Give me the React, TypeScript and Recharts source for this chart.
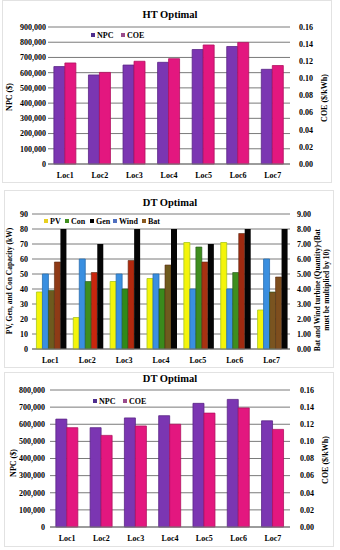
import React from 'react';
import { BarChart, Bar, XAxis, YAxis, CartesianGrid, Cell } from 'recharts';

const locations = ['Loc1', 'Loc2', 'Loc3', 'Loc4', 'Loc5', 'Loc6', 'Loc7'];

// HT Optimal
const htNpc = [640000, 585000, 650000, 668000, 752000, 772000, 622000];
const htCoe = [0.118, 0.107, 0.12, 0.123, 0.139, 0.142, 0.115];

// DT Optimal (components)
const dtPv = [38, 21, 45, 47, 71, 71, 26];
const dtCon = [39, 45, 40, 40, 68, 51, 38];
const dtGen = [80, 70, 80, 80, 70, 80, 80];
const dtWind = [5, 6, 5, 5, 4, 4, 6];
const dtBat = [5.8, 5.1, 5.9, 5.6, 5.8, 7.7, 4.8];

// DT Optimal (costs)
const dtNpc = [630000, 580000, 637000, 650000, 722000, 745000, 620000];
const dtCoe = [0.116, 0.107, 0.118, 0.12, 0.133, 0.139, 0.114];

const npcTicksHT = [0, 100000, 200000, 300000, 400000, 500000, 600000, 700000, 800000, 900000];
const npcTicksDT = [0, 100000, 200000, 300000, 400000, 500000, 600000, 700000, 800000];
const coeTicks = [0, 0.02, 0.04, 0.06, 0.08, 0.1, 0.12, 0.14, 0.16];
const capTicks = [0, 10, 20, 30, 40, 50, 60, 70, 80, 90];
const qtyTicks = [0, 1, 2, 3, 4, 5, 6, 7, 8, 9];

const conColors = ['#6E5A1E', '#3E8E1E', '#2F8A1A', '#3A8A1C', '#3E8E1E', '#3E8E1E', '#7A5420'];
const batColors = ['#8E3A16', '#C8260E', '#B2280E', '#6E5A1E', '#A83212', '#A02A10', '#7E4E1E'];

const htData = locations.map((loc, i) => ({ loc, npc: htNpc[i], coe: htCoe[i] }));
const dtCostData = locations.map((loc, i) => ({ loc, npc: dtNpc[i], coe: dtCoe[i] }));
const dtCompData = locations.map((loc, i) => ({
  loc,
  pv: dtPv[i],
  con: dtCon[i],
  gen: dtGen[i],
  wind: dtWind[i],
  bat: dtBat[i],
}));

const FONT = '"Liberation Serif", "Times New Roman", serif';
const NPC_COLOR = '#7B36B2';
const COE_COLOR = '#E3177F';
const GRID = '#7a7a7a';

const tickStyle = { fontSize: 8, fontWeight: 'bold', fill: '#000', fontFamily: FONT } as any;

const fmtNpc = (v: number) => (v === 0 ? '0' : v.toLocaleString('en-US'));
const fmt2 = (v: number) => v.toFixed(2);
const fmt0 = (v: number) => String(v);

const Title = ({ text, top }: { text: string; top: number }) => (
  <div
    style={{
      position: 'absolute',
      left: 0,
      width: 340,
      top: top - 7,
      textAlign: 'center',
      fontFamily: FONT,
      fontWeight: 'bold',
      fontSize: 10.5,
      lineHeight: '14px',
      color: '#000',
    }}
  >
    {text}
  </div>
);

const VLabel = ({ text, x, y, size = 8 }: { text: string; x: number; y: number; size?: number }) => (
  <div
    style={{
      position: 'absolute',
      left: x,
      top: y,
      transform: 'translate(-50%, -50%) rotate(-90deg)',
      whiteSpace: 'nowrap',
      fontFamily: FONT,
      fontWeight: 'bold',
      fontSize: size,
      lineHeight: `${size + 1}px`,
      color: '#000',
    }}
  >
    {text}
  </div>
);

const LegendRow = ({ items, top }: { items: { name: string; color: string; x: number }[]; top: number }) => (
  <>
    {items.map((it) => (
      <div
        key={it.name}
        style={{
          position: 'absolute',
          left: it.x,
          top: top - 6,
          height: 12,
          display: 'flex',
          alignItems: 'center',
          fontFamily: FONT,
          fontWeight: 'bold',
          fontSize: 8,
          color: '#000',
          whiteSpace: 'nowrap',
        }}
      >
        <span style={{ display: 'inline-block', width: 4, height: 4, background: it.color, marginRight: 2 }} />
        {it.name}
      </div>
    ))}
  </>
);

const Frame = ({ left, top, width, height }: any) => (
  <div
    style={{
      position: 'absolute',
      left,
      top,
      width,
      height,
      border: '1px solid #e2e2e2',
      boxSizing: 'border-box',
    }}
  />
);

export default function App() {
  return (
    <div style={{ position: 'absolute', left: 0, top: 0, width: 340, height: 550, background: '#fff', overflow: 'hidden' }}>
      <Frame left={2} top={0} width={330} height={183} />
      <Frame left={4} top={190} width={330} height={178} />
      <Frame left={4} top={372} width={330} height={175} />

      {/* Chart 1: HT Optimal */}
      <div style={{ position: 'absolute', left: 0, top: 0 }}>
        <BarChart
          width={340}
          height={183}
          data={htData}
          margin={{ top: 27, right: 0, left: 0, bottom: 3 }}
          barCategoryGap="17%"
          barGap={0}
        >
          <CartesianGrid vertical={false} stroke={GRID} yAxisId="l" />
          <XAxis dataKey="loc" tick={tickStyle} tickLine={false} axisLine={{ stroke: GRID }} height={16} interval={0} />
          <YAxis
            yAxisId="l"
            orientation="left"
            width={48}
            domain={[0, 900000]}
            ticks={npcTicksHT}
            tickFormatter={fmtNpc}
            tick={tickStyle}
            tickLine={false}
            axisLine={false}
            tickSize={0}
            tickMargin={2}
            interval={0}
          />
          <YAxis
            yAxisId="r"
            orientation="right"
            width={50}
            domain={[0, 0.16]}
            ticks={coeTicks}
            tickFormatter={fmt2}
            tick={{ ...tickStyle, textAnchor: 'start' }}
            tickLine={false}
            axisLine={false}
            tickSize={0}
            tickMargin={9}
            interval={0}
          />
          <Bar yAxisId="l" dataKey="npc" fill={NPC_COLOR} stroke="#5A2686" strokeWidth={0.8} isAnimationActive={false} />
          <Bar yAxisId="r" dataKey="coe" fill={COE_COLOR} stroke="#B3105F" strokeWidth={0.8} isAnimationActive={false} />
        </BarChart>
      </div>
      <Title text="HT Optimal" top={15} />
      <LegendRow
        top={35}
        items={[
          { name: 'NPC', color: '#4E2D8E', x: 91 },
          { name: 'COE', color: '#9A4C8C', x: 121 },
        ]}
      />
      <VLabel text="NPC ($)" x={9} y={97} />
      <VLabel text="COE ($/kWh)" x={324} y={98} />

      {/* Chart 2: DT Optimal components */}
      <div style={{ position: 'absolute', left: 0, top: 183 }}>
        <BarChart
          width={340}
          height={187}
          data={dtCompData}
          margin={{ top: 31, right: 0, left: 0, bottom: 3 }}
          barCategoryGap="12%"
          barGap={0}
        >
          <CartesianGrid vertical={false} stroke={GRID} yAxisId="l" />
          <XAxis dataKey="loc" tick={tickStyle} tickLine={false} axisLine={{ stroke: GRID }} height={18} interval={0} />
          <YAxis
            yAxisId="l"
            orientation="left"
            width={32}
            domain={[0, 90]}
            ticks={capTicks}
            tickFormatter={fmt0}
            tick={tickStyle}
            tickLine={false}
            axisLine={false}
            tickSize={0}
            tickMargin={4}
            interval={0}
          />
          <YAxis
            yAxisId="r"
            orientation="right"
            width={50}
            domain={[0, 9]}
            ticks={qtyTicks}
            tickFormatter={fmt2}
            tick={{ ...tickStyle, textAnchor: 'start' }}
            tickLine={false}
            axisLine={false}
            tickSize={0}
            tickMargin={7}
            interval={0}
          />
          <Bar yAxisId="l" dataKey="pv" fill="#F4F40A" stroke="#A8C81A" strokeWidth={0.8} isAnimationActive={false} />
          <Bar yAxisId="r" dataKey="wind" fill="#3A8FE0" stroke="#2A6EB0" strokeWidth={0.8} isAnimationActive={false} />
          <Bar yAxisId="l" dataKey="con" stroke="#24561A" strokeWidth={0.6} isAnimationActive={false}>
            {dtCompData.map((d, i) => (
              <Cell key={d.loc} fill={conColors[i]} />
            ))}
          </Bar>
          <Bar yAxisId="r" dataKey="bat" stroke="#5A2A10" strokeWidth={0.6} isAnimationActive={false}>
            {dtCompData.map((d, i) => (
              <Cell key={d.loc} fill={batColors[i]} />
            ))}
          </Bar>
          <Bar yAxisId="l" dataKey="gen" fill="#050505" isAnimationActive={false} />
        </BarChart>
      </div>
      <Title text="DT Optimal" top={203} />
      <LegendRow
        top={221}
        items={[
          { name: 'PV', color: '#E8D020', x: 44 },
          { name: 'Con', color: '#3E8E1E', x: 65 },
          { name: 'Gen', color: '#000', x: 90 },
          { name: 'Wind', color: '#4F6FC0', x: 113 },
          { name: 'Bat', color: '#8A5A20', x: 142 },
        ]}
      />
      <VLabel text="PV, Gen, and Con Capacity (kW)" x={10} y={281} size={7.5} />
      <VLabel text="Bat and Wind turbine (Quantity)-(Bat" x={318} y={290} size={7.5} />
      <VLabel text="must be multiplied by 10)" x={327} y={290} size={7.5} />

      {/* Chart 3: DT Optimal costs */}
      <div style={{ position: 'absolute', left: 0, top: 370 }}>
        <BarChart
          width={340}
          height={180}
          data={dtCostData}
          margin={{ top: 20, right: 0, left: 0, bottom: 5 }}
          barCategoryGap="17%"
          barGap={0}
        >
          <CartesianGrid vertical={false} stroke={GRID} yAxisId="l" />
          <XAxis dataKey="loc" tick={tickStyle} tickLine={false} axisLine={{ stroke: GRID }} height={18} interval={0} />
          <YAxis
            yAxisId="l"
            orientation="left"
            width={50}
            domain={[0, 800000]}
            ticks={npcTicksDT}
            tickFormatter={fmtNpc}
            tick={tickStyle}
            tickLine={false}
            axisLine={false}
            tickSize={0}
            tickMargin={5}
            interval={0}
          />
          <YAxis
            yAxisId="r"
            orientation="right"
            width={50}
            domain={[0, 0.16]}
            ticks={coeTicks}
            tickFormatter={fmt2}
            tick={{ ...tickStyle, textAnchor: 'start' }}
            tickLine={false}
            axisLine={false}
            tickSize={0}
            tickMargin={10}
            interval={0}
          />
          <Bar yAxisId="l" dataKey="npc" fill={NPC_COLOR} stroke="#5A2686" strokeWidth={0.8} isAnimationActive={false} />
          <Bar yAxisId="r" dataKey="coe" fill={COE_COLOR} stroke="#B3105F" strokeWidth={0.8} isAnimationActive={false} />
        </BarChart>
      </div>
      <Title text="DT Optimal" top={379} />
      <LegendRow
        top={401}
        items={[
          { name: 'NPC', color: '#4E2D8E', x: 93 },
          { name: 'COE', color: '#9A4C8C', x: 123 },
        ]}
      />
      <VLabel text="NPC ($)" x={13} y={463} />
      <VLabel text="COE ($/kWh)" x={325} y={460} />
    </div>
  );
}
